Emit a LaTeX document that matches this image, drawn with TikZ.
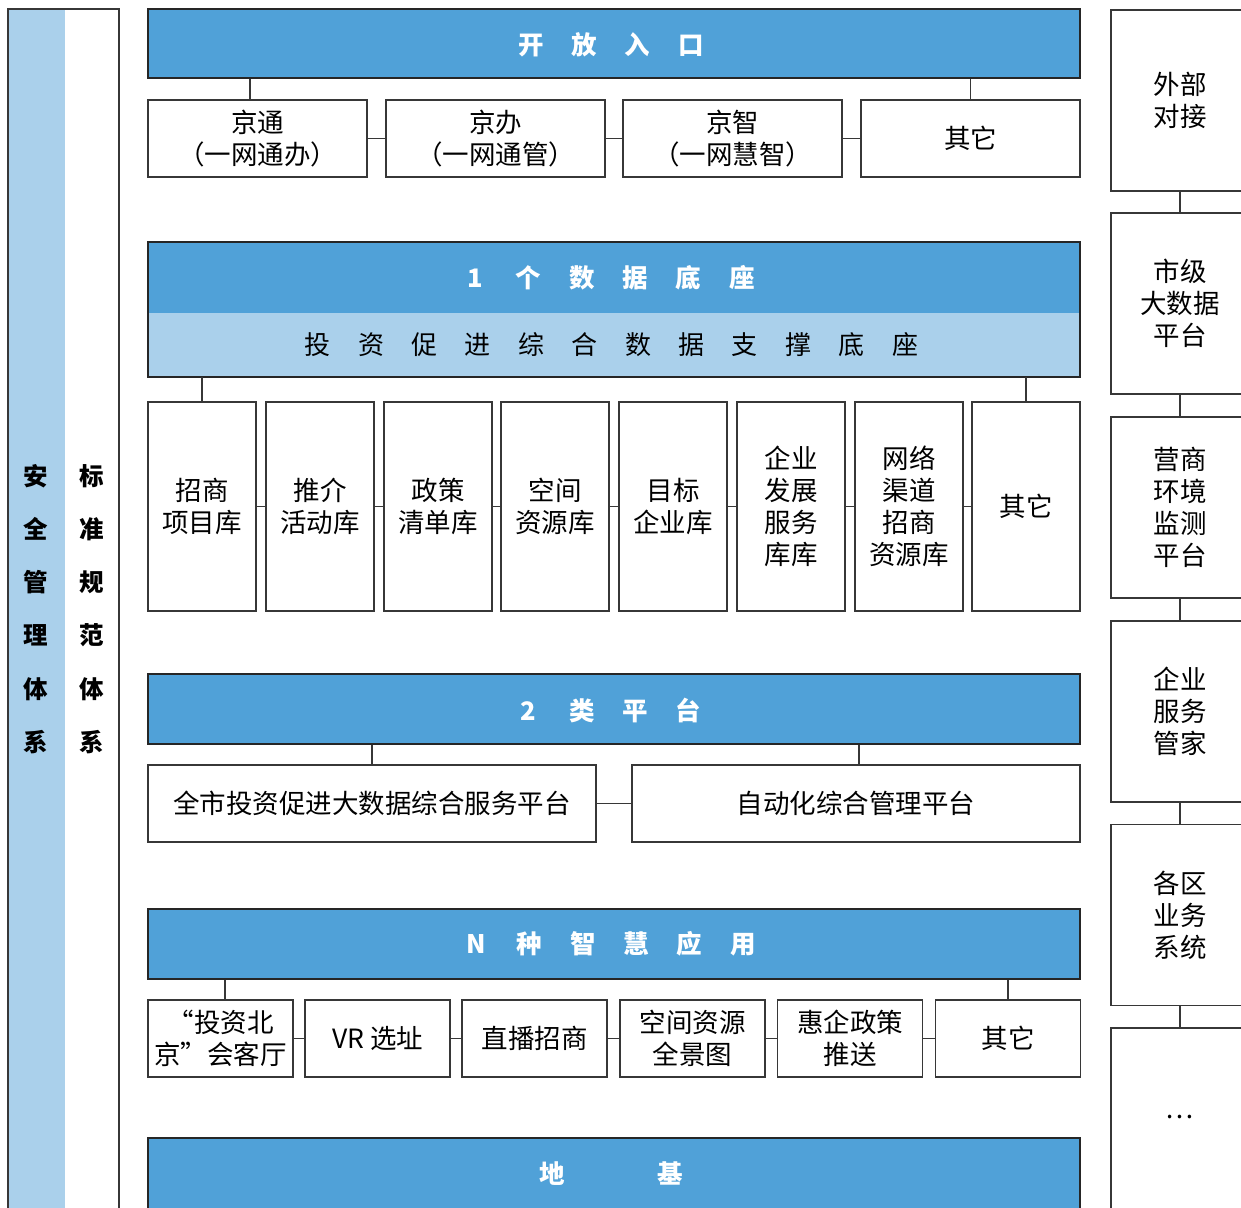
\documentclass[tikz,border=0pt]{standalone}
\usepackage{fontspec}
\setmainfont{Noto Sans CJK SC}
\definecolor{dblue}{RGB}{80,161,216}
\definecolor{lblue}{RGB}{170,208,235}
\definecolor{edge}{RGB}{55,55,55}
\newcommand\cbx[1]{\makebox[53.4pt]{#1}}
\begin{document}
\begin{tikzpicture}[x=1pt,y=-1pt,
  box/.style={draw=edge, line width=1.5pt, fill=white, inner sep=0pt, align=center,
    font=\fontsize{26.5}{32}\selectfont},
  bar/.style={draw=black!85, line width=2pt, fill=dblue, inner sep=0pt},
  bartext/.style={inner sep=0pt, text=white, font=\fontsize{25.5}{30}\selectfont\bfseries},
  subtext/.style={inner sep=0pt, text=black, font=\fontsize{26}{30}\selectfont},
  sidetext/.style={inner sep=0pt, align=center, font=\fontsize{24.5}{53.2}\selectfont\bfseries},
  link/.style={draw=edge, line width=1.5pt}]
\clip (0,0) rectangle (1241,1207);
\fill[white] (0,0) rectangle (1241,1207);

% left frame
\fill[lblue] (9,9) rectangle (65,1240);
\draw[edge, line width=1.5pt] (8,9) rectangle (119,1240);
\node[sidetext] (aq) at (36,609) {安\\全\\管\\理\\体\\系};
\node[sidetext] (bz) at (92,609) {标\\准\\规\\范\\体\\系};

% layer 1
\node[bar, minimum width=932pt, minimum height=69pt] (kf) at (614,43.5) {};
\node[bartext] (kft) at (611,45) {\cbx{开}\cbx{放}\cbx{入}\cbx{口}};
\node[box, minimum width=219pt, minimum height=77pt] (jt) at (257.5,138.5) {京通\\（一网通办）};
\node[box, minimum width=219pt, minimum height=77pt] (jb) at (495.5,138.5) {京办\\（一网通管）};
\node[box, minimum width=219pt, minimum height=77pt] (jz) at (732.5,138.5) {京智\\（一网慧智）};
\node[box, minimum width=219pt, minimum height=77pt] (q1) at (970.5,138.5) {其它};
\coordinate (c1) at (250,0);
\draw[link] (kf.south -| c1) -- (jt.north -| c1);
\draw[link] (kf.south -| q1) -- (q1.north);
\draw[link] (jt.east) -- (jb.west);
\draw[link] (jb.east) -- (jz.west);
\draw[link] (jz.east) -- (q1.west);

% layer 2
\node[inner sep=0pt, outer sep=0pt, fill=dblue, minimum width=932pt, minimum height=71pt] (dbt) at (614,277.5) {};
\node[inner sep=0pt, outer sep=0pt, fill=lblue, minimum width=932pt, minimum height=64pt] (dbb) at (614,345) {};
\draw[black!85, line width=2pt] (dbt.north west) rectangle (dbb.south east);
\node[bartext] (dbtt) at (608.5,278) {\cbx{1}\cbx{个}\cbx{数}\cbx{据}\cbx{底}\cbx{座}};
\node[subtext] (dbbt) at (611.5,345) {\cbx{投}\cbx{资}\cbx{促}\cbx{进}\cbx{综}\cbx{合}\cbx{数}\cbx{据}\cbx{支}\cbx{撑}\cbx{底}\cbx{座}};
\node[box, minimum width=108pt, minimum height=209pt] (b1) at (202,506.5) {招商\\项目库};
\node[box, minimum width=108pt, minimum height=209pt] (b2) at (320,506.5) {推介\\活动库};
\node[box, minimum width=108pt, minimum height=209pt] (b3) at (438,506.5) {政策\\清单库};
\node[box, minimum width=108pt, minimum height=209pt] (b4) at (555,506.5) {空间\\资源库};
\node[box, minimum width=108pt, minimum height=209pt] (b5) at (673,506.5) {目标\\企业库};
\node[box, minimum width=108pt, minimum height=209pt] (b6) at (791,506.5) {企业\\发展\\服务\\库库};
\node[box, minimum width=108pt, minimum height=209pt] (b7) at (909,506.5) {网络\\渠道\\招商\\资源库};
\node[box, minimum width=108pt, minimum height=209pt] (b8) at (1026,506.5) {其它};
\draw[link] (b1.north) -- (b1.north |- dbb.south);
\draw[link] (b8.north) -- (b8.north |- dbb.south);
\foreach \a/\b in {b1/b2,b2/b3,b3/b4,b4/b5,b5/b6,b6/b7,b7/b8}
  \draw[link] (\a.east) -- (\b.west);

% layer 3
\node[bar, minimum width=932pt, minimum height=70pt] (pt) at (614,709) {};
\node[bartext] (ptt) at (608.5,710) {\cbx{2}\cbx{类}\cbx{平}\cbx{台}};
\node[box, minimum width=448pt, minimum height=77pt] (p1) at (372,803.5) {全市投资促进大数据综合服务平台};
\node[box, minimum width=448pt, minimum height=77pt] (p2) at (856,803.5) {自动化综合管理平台};
\coordinate (c3) at (859,0);
\draw[link] (p1.north) -- (p1.north |- pt.south);
\draw[link] (pt.south -| c3) -- (p2.north -| c3);
\draw[link] (p1.east) -- (p2.west);

% layer 4
\node[bar, minimum width=932pt, minimum height=70pt] (yy) at (614,944) {};
\node[bartext] (yyt) at (609.5,944) {\cbx{N}\cbx{种}\cbx{智}\cbx{慧}\cbx{应}\cbx{用}};
\node[box, minimum width=145pt, minimum height=77pt] (a1) at (220.5,1038.5) {“投资北\\京”会客厅};
\node[box, minimum width=145pt, minimum height=77pt] (a2) at (377.5,1038.5) {VR 选址};
\node[box, minimum width=145pt, minimum height=77pt] (a3) at (534.5,1038.5) {直播招商};
\node[box, minimum width=145pt, minimum height=77pt] (a4) at (692.5,1038.5) {空间资源\\全景图};
\node[box, minimum width=145pt, minimum height=77pt] (a5) at (850,1038.5) {惠企政策\\推送};
\node[box, minimum width=145pt, minimum height=77pt] (a6) at (1008,1038.5) {其它};
\coordinate (c4) at (225,0);
\draw[link] (yy.south -| c4) -- (a1.north -| c4);
\draw[link] (a6.north) -- (a6.north |- yy.south);
\foreach \a/\b in {a1/a2,a2/a3,a3/a4,a4/a5,a5/a6}
  \draw[link] (\a.east) -- (\b.west);

% layer 5
\node[bar, minimum width=932pt, minimum height=100pt] (dj) at (614,1188) {};
\node[bartext] (djt) at (611,1174) {\makebox[118pt]{地}\makebox[118pt]{基}};

% right column
\node[box, minimum width=138pt, minimum height=181pt] (r1) at (1180,100.5) {外部\\对接};
\node[box, minimum width=138pt, minimum height=181pt] (r2) at (1180,303.5) {市级\\大数据\\平台};
\node[box, minimum width=138pt, minimum height=181pt] (r3) at (1180,507.5) {营商\\环境\\监测\\平台};
\node[box, minimum width=138pt, minimum height=181pt] (r4) at (1180,711.5) {企业\\服务\\管家};
\node[box, minimum width=138pt, minimum height=181pt] (r5) at (1180,915) {各区\\业务\\系统};
\node[box, minimum width=138pt, minimum height=190pt] (r6) at (1180,1123) {};
\node[inner sep=0pt, font=\fontsize{26.5}{32}\selectfont] (r6t) at (1180,1117) {…};
\foreach \a/\b in {r1/r2,r2/r3,r3/r4,r4/r5,r5/r6}
  \draw[link] (\a.south) -- (\b.north);
\end{tikzpicture}
\end{document}
